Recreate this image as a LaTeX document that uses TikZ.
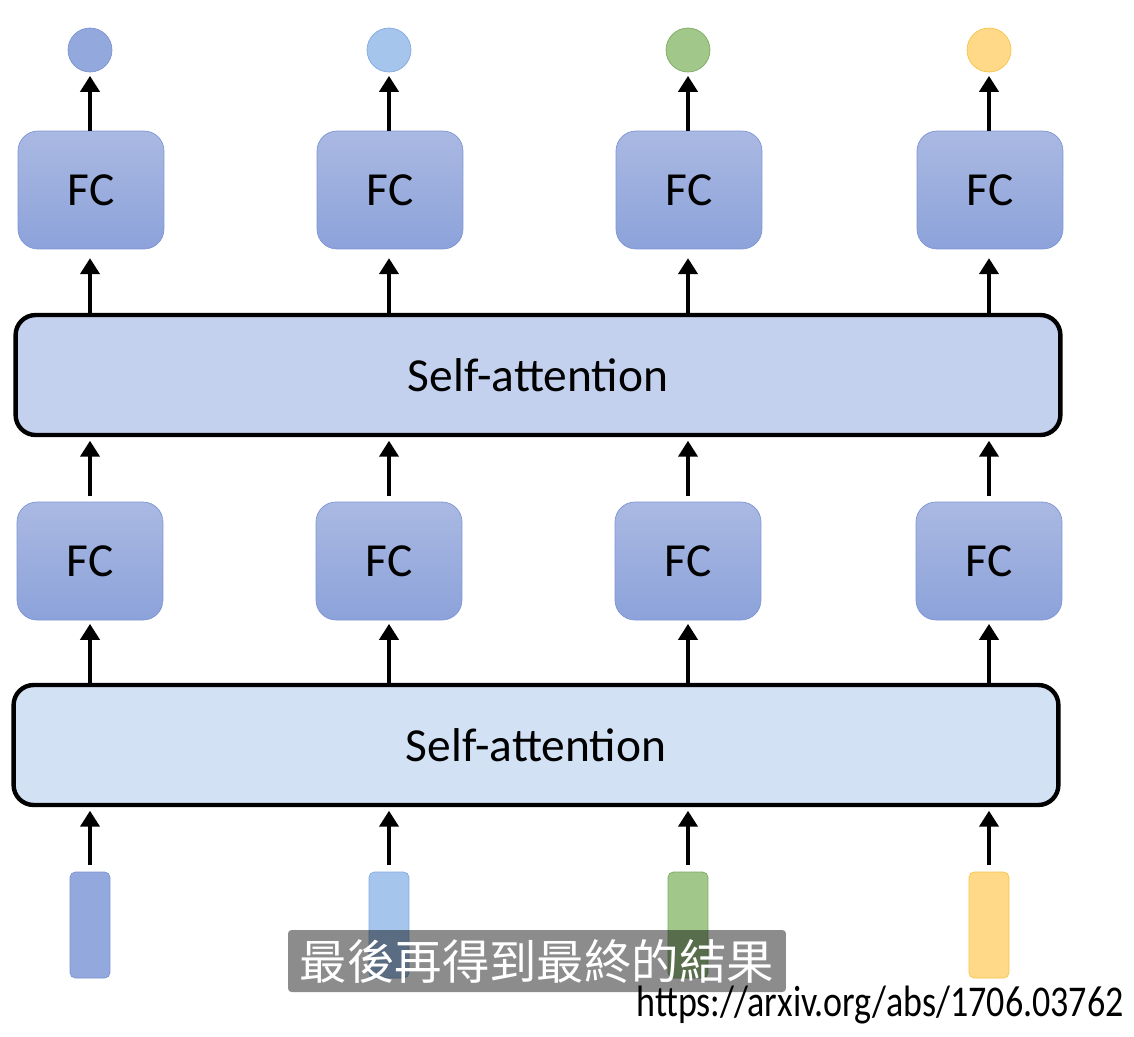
\documentclass[tikz,border=0pt]{standalone}
\usepackage{fontspec}
\setmainfont{Carlito}
\newfontfamily\cjk{Noto Sans CJK TC}
\usetikzlibrary{arrows.meta}

\definecolor{fctop}{HTML}{AAB9E2}
\definecolor{fcbot}{HTML}{8CA2DA}
\definecolor{fcline}{HTML}{7D95D4}
\definecolor{satop}{HTML}{C3D1EF}
\definecolor{salow}{HTML}{D3E1F5}
\definecolor{cA}{HTML}{93A8DC}
\definecolor{cAline}{HTML}{7A93D2}
\definecolor{cB}{HTML}{A5C5EC}
\definecolor{cBline}{HTML}{82AADF}
\definecolor{cC}{HTML}{A2C78B}
\definecolor{cCline}{HTML}{7DAA60}
\definecolor{cD}{HTML}{FFD987}
\definecolor{cDline}{HTML}{F4C44A}

\begin{document}
\begin{tikzpicture}[x=0.02cm, y=-0.02cm,
  fcbox/.style={rounded corners=0.4cm, draw=fcline, top color=fctop, bottom color=fcbot,
    minimum width=2.92cm, minimum height=2.36cm, inner sep=0pt, font=\fontsize{27}{30}\selectfont},
  sabox/.style={rounded corners=0.4cm, draw=black, line width=2.5pt,
    minimum width=20.9cm, minimum height=2.4cm, inner sep=0pt, font=\fontsize{27}{30}\selectfont},
  outdot/.style={circle, minimum size=0.88cm, inner sep=0pt},
  inbar/.style={rounded corners=3pt, minimum width=0.8cm, minimum height=2.12cm, inner sep=0pt},
  arr/.style={line width=2.6pt, -{Triangle[length=0.32cm, width=0.38cm]}, shorten >=2pt}]

  % Canvas
  \useasboundingbox (0,0) rectangle (1134,1036);

  % Two self-attention layers
  \node[sabox, fill=satop] (satt2) at (538,375) {Self-attention};
  \node[sabox, fill=salow] (satt1) at (536,745) {Self-attention};

  % One column per token: input bar, FC, FC, output dot
  \foreach \i/\xx/\col in {1/90/cA, 2/389/cB, 3/688/cC, 4/989/cD} {
    \node[inbar, fill=\col, draw=\col line] (bar\i) at (\xx,925) {};
    \node[fcbox] (fcmid\i) at (\xx,561) {FC};
    \node[fcbox] (fctop\i) at (\xx+1,190) {FC};
    \node[outdot, fill=\col, draw=\col line] (dot\i) at (\xx,50) {};

    % Arrows up the column
    \draw[arr, shorten <=4pt] (bar\i.north) -- (bar\i.north |- satt1.south);
    \draw[arr] (fcmid\i.south |- satt1.north) -- (fcmid\i.south);
    \draw[arr, shorten <=3pt] (fcmid\i.north) -- (fcmid\i.north |- satt2.south);
    \draw[arr, shorten >=5pt] (fcmid\i.north |- satt2.north) -- (fcmid\i.north |- fctop\i.south);
    \draw[arr] (dot\i.south |- fctop\i.north) -- (dot\i.south);
  }

  % Subtitle and source
  \node[fill=black, fill opacity=0.45, text opacity=1, text=white, rounded corners=2pt,
    minimum width=9.96cm, minimum height=1.24cm, inner sep=0pt,
    font=\cjk\fontsize{27}{30}\selectfont] (subt) at (537,961) {最後再得到最終的結果};
  \node[anchor=south east, inner sep=0pt, xscale=0.82, font=\fontsize{25}{28}\selectfont] (src) at (1124,1024) {https://arxiv.org/abs/1706.03762};

\end{tikzpicture}
\end{document}
